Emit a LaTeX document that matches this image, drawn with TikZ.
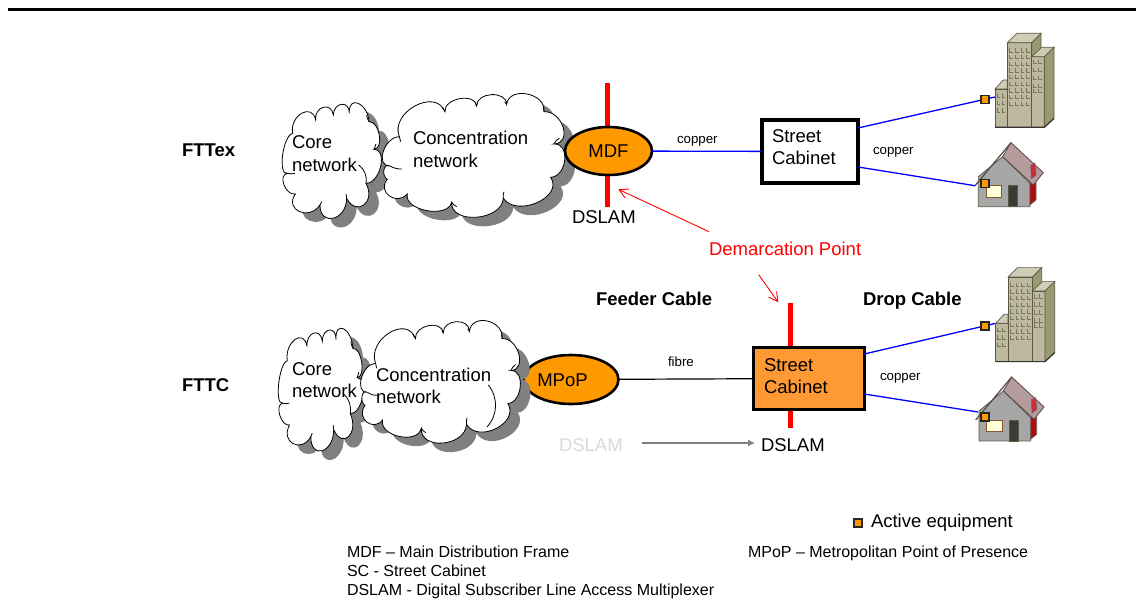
\documentclass[tikz,border=0pt]{standalone}
\usepackage{fontspec}
\setmainfont{Liberation Sans}
\usetikzlibrary{shapes.geometric,arrows.meta,calc}
\definecolor{orangeA}{HTML}{FF9900}
\definecolor{orangeB}{HTML}{FF9933}
\definecolor{blueL}{HTML}{0000FF}
\definecolor{redL}{HTML}{FF0000}
\definecolor{shadowC}{HTML}{808080}
\definecolor{bFront}{HTML}{BDB89E}
\definecolor{bSide}{HTML}{9A9A72}
\definecolor{bTop}{HTML}{CFCDB5}
\definecolor{bEdge}{HTML}{5A5A45}
\definecolor{bWin}{HTML}{77775F}
\definecolor{roofC}{HTML}{B59B9B}
\definecolor{eaveC}{HTML}{5A4848}
\definecolor{wallC}{HTML}{A6A6A6}
\definecolor{doorC}{HTML}{3A3A3A}
\definecolor{winC}{HTML}{FFFFD8}
\definecolor{chimA}{HTML}{B00C0C}
\definecolor{chimB}{HTML}{D0283C}
\newcommand\fsL{\fontsize{18.5}{22}\selectfont}
\newcommand\fsS{\fontsize{13.3}{15}\selectfont}
\newcommand\fsT{\fontsize{16}{19}\selectfont}
% one lobe of a cloud: from cusp P through apex Q to cusp R
\newcommand\lobe[3]{-- (#1) .. controls ($.333*(#1)+1.333*(#2)-.667*(#3)$) and ($.333*(#3)+1.333*(#2)-.667*(#1)$) .. (#3)}
\newcommand\coreCloud{(68,190)
  \lobe{68,190}{95,130}{137,150}
  \lobe{137,150}{160,112}{190,135}
  \lobe{190,135}{215,103}{238,130}
  \lobe{238,130}{265,100}{297,155}
  \lobe{297,155}{328,195}{312,238}
  \lobe{312,238}{332,290}{288,340}
  \lobe{288,340}{282,405}{230,385}
  \lobe{230,385}{190,445}{150,405}
  \lobe{150,405}{88,425}{76,372}
  \lobe{76,372}{42,345}{52,310}
  \lobe{52,310}{38,255}{68,190} -- cycle}
\newcommand\coreCurls{
  \draw[curl] (297,155) to[bend left=15] (290,135);
  \draw[curl] (312,238) to[bend left=15] (318,222);
  \draw[curl] (266,285) to[bend left=30] (288,340);
  \draw[curl] (230,385) to[bend left=15] (228,372);
  \draw[curl] (150,405) to[bend left=15] (155,395);
  \draw[curl] (52,310) to[bend right=15] (75,310);
}
\newcommand\concCloud{(388,200)
  \lobe{388,200}{435,108}{525,125}
  \lobe{525,125}{570,86}{620,108}
  \lobe{620,108}{665,74}{710,103}
  \lobe{710,103}{772,72}{822,125}
  \lobe{822,125}{880,172}{852,222}
  \lobe{852,222}{885,270}{842,322}
  \lobe{842,322}{802,398}{700,385}
  \lobe{700,385}{620,442}{545,397}
  \lobe{545,397}{470,422}{412,372}
  \lobe{412,372}{358,378}{352,328}
  \lobe{352,328}{342,300}{360,288}
  \lobe{360,288}{340,245}{388,200} -- cycle}
\newcommand\concCurls{
  \draw[curl] (360,288) to[bend right=15] (396,297);
  \draw[curl] (388,200) to[bend right=15] (392,215);
  \draw[curl] (525,125) to[bend left=15] (516,112);
  \draw[curl] (620,108) to[bend left=15] (616,98);
  \draw[curl] (710,103) to[bend left=15] (704,96);
  \draw[curl] (822,125) to[bend left=15] (820,112);
  \draw[curl] (852,222) to[bend left=15] (868,204);
  \draw[curl] (700,385) to[bend left=15] (702,365);
  \draw[curl] (545,397) to[bend right=15] (560,410);
}
% \cloudAt{xshift}{yshift}{xscale}{yscale}{path}{curls}: shadow, outline, inner strokes
\newcommand\cloudAt[6]{%
  \begin{scope}[shift={(#1+10,#2+9)},xscale=#3,yscale=#4]
    \begin{scope}[shift={(270,70)},scale=1/3]\fill[cloudshade] #5;\end{scope}
  \end{scope}
  \begin{scope}[shift={(#1,#2)},xscale=#3,yscale=#4]
    \begin{scope}[shift={(270,70)},scale=1/3]\path[cloudface] #5; #6\end{scope}
  \end{scope}}
\newcommand\drawBuilding{%
  \path[facet,fill=bFront] (165,207) rectangle (202,322);
  \path[facet,fill=bTop] (165,207) -- (190,180) -- (202,180) -- (202,207) -- cycle;
  \path[facet,fill=bSide] (275,68) -- (303,40) -- (303,100) -- (275,125) -- cycle;
  \path[facet,fill=bFront] (202,68) rectangle (275,322);
  \path[facet,fill=bTop] (202,68) -- (230,40) -- (303,40) -- (275,68) -- cycle;
  \path[facet,fill=bFront] (275,110) rectangle (313,322);
  \path[facet,fill=bTop] (275,110) -- (305,82) -- (342,82) -- (313,110) -- cycle;
  \path[facet,fill=bSide] (313,110) -- (342,82) -- (342,295) -- (313,322) -- cycle;
  \draw[line width=1.2pt,black!80] (165,322) -- (313,322) -- (342,295);
  \foreach \xx in {209,226,243,260} \foreach \yy in {85,105,...,245} \draw[winmark] (\xx,\yy) -- (\xx,\yy+11) -- (\xx+10,\yy+11);
  \foreach \xx in {171,186} \foreach \yy in {220,243,265} \draw[winmark] (\xx,\yy) -- (\xx,\yy+11) -- (\xx+10,\yy+11);
  \foreach \xx in {281,296} \foreach \yy in {120,144,168,192,207} \draw[winmark] (\xx,\yy) -- (\xx,\yy+11) -- (\xx+10,\yy+11);
}
\newcommand\drawHouse{%
  \path[draw=bEdge,line width=.8pt,fill=wallC] (115,560) -- (115,470) -- (188,410) -- (270,490) -- (270,560) -- cycle;
  \path[draw=black!60,line width=.6pt,fill=chimA] (270,490) -- (270,555) -- (288,540) -- (288,470) -- cycle;
  \path[draw=eaveC,line width=.8pt,fill=roofC] (188,410) -- (213,368) -- (310,458) -- (280,495) -- cycle;
  \path[draw=black!60,line width=.6pt,fill=chimB] (272,436) -- (285,430) -- (288,465) -- (274,476) -- cycle;
  \draw[line width=1.2pt,eaveC] (105,497) -- (213,368);
  \path[draw=brown!70!black,line width=.8pt,fill=winC] (138,497) rectangle (184,532);
  \path[draw=bEdge,line width=.8pt,fill=doorC] (205,497) rectangle (232,560);
}
\tikzset{
  x=1pt,y=-1pt,
  every node/.style={inner sep=0pt,outer sep=0pt},
  txtL/.style={font=\fsL,anchor=base west},
  txtB/.style={font=\fsL\bfseries,anchor=base west},
  txtS/.style={font=\fsS,anchor=base west},
  txtT/.style={font=\fsT,anchor=base west},
  txtBlock/.style={font=\fsL,anchor=west,align=left},
  facet/.style={draw=bEdge,line width=.7pt},
  winmark/.style={draw=bWin,line width=.5pt},
  curl/.style={draw=black,line width=.8pt},
  cloudface/.style={fill=white,draw=black,line width=.8pt},
  cloudshade/.style={fill=shadowC,draw=none},
  oval/.style={ellipse,draw=black,line width=2.6pt,fill=orangeA},
  cabinet/.style={rectangle,draw=black,line width=3.2pt},
  activesq/.style={rectangle,draw=black!85,line width=1.3pt,fill=orangeA,minimum size=8pt},
  redbar/.style={draw=redL,line width=5pt},
  blueline/.style={draw=blueL,line width=1.3pt},
  callout/.style={draw=redL,line width=.9pt,-{Straight Barb[length=9pt,width=10pt]}},
}
\begin{document}
\begin{tikzpicture}
\useasboundingbox (0,0) rectangle (1136,602);
\coordinate (hl) at (8,9.7); \coordinate (hr) at (1136,9.7);
\draw[line width=2.4pt,black] (hl) -- (hr);

% ---- top row
\coordinate (rt) at (607,83); \coordinate (rb) at (607,207);
\draw[redbar] (rt) -- (rb);
\cloudAt{0}{0}{1}{1}{\coreCloud}{\coreCurls}
\cloudAt{0}{0}{1}{1}{\concCloud}{\concCurls}
\node[txtL] (core1a) at (292,148) {Core};
\node[txtL] (core1b) at (292,171) {network};
\node[txtL] (conc1a) at (413,144) {Concentration};
\node[txtL] (conc1b) at (413,167) {network};
\node[oval,minimum width=87pt,minimum height=48pt,font=\fsL] (mdf) at (608.5,151) {MDF};
\node[cabinet,minimum width=96pt,minimum height=63pt] (cab1) at (810,151.5) {};
\node[txtBlock] (cab1t) at (772,147) {Street\\Cabinet};
\draw[blueline] (mdf) -- (cab1);

\begin{scope}[shift={(940,20)},scale=1/3]\drawBuilding\drawHouse\end{scope}
\coordinate (c1a) at (858,128); \coordinate (c1b) at (858,167);
\coordinate (bl1) at (995,97); \coordinate (hs1) at (975,185.7);
\draw[blueline] (c1a) -- (bl1);
\draw[blueline] (c1b) -- (hs1);
\node[activesq] (sq1) at (985,99.5) {};
\node[activesq] (sq2) at (985,183.5) {};

% ---- bottom row
\coordinate (rt2) at (790.3,303); \coordinate (rb2) at (790.3,427.7);
\draw[redbar] (rt2) -- (rb2);
\node[oval,minimum width=95pt,minimum height=49pt] (mpop) at (571,379.5) {};
\cloudAt{35.6}{219.4}{.86}{1.06}{\coreCloud}{\coreCurls}
\cloudAt{26.1}{228}{.875}{.99}{\concCloud}{\concCurls}
\coordinate (cl1) at (488.3,385); \coordinate (cl2) at (487,427);
\draw[curl] (cl1) to[bend left=40] (cl2);
\node[txtL] (core2a) at (292,375) {Core};
\node[txtL] (core2b) at (292,397) {network};
\node[txtL] (conc2a) at (376,381) {Concentration};
\node[txtL] (conc2b) at (376,403) {network};
\node[font=\fsL] (mpoplabel) at (562.5,380) {MPoP};
\node[cabinet,fill=orangeB,minimum width=111pt,minimum height=62pt] (cab2) at (808.8,378.5) {};
\node[txtBlock] (cab2t) at (764,376) {Street\\Cabinet};
\draw[line width=1.2pt] (mpop) -- (cab2);

\begin{scope}[shift={(940.7,254.3)},scale=1/3]\drawBuilding\drawHouse\end{scope}
\coordinate (c2a) at (864.3,354); \coordinate (c2b) at (864.3,394);
\coordinate (bl2) at (995,323.5); \coordinate (hs2) at (978,412);
\draw[blueline] (c2a) -- (bl2);
\draw[blueline] (c2b) -- (hs2);
\node[activesq] (sq3) at (985,326) {};
\node[activesq] (sq4) at (985,417) {};

% ---- labels
\node[txtB] (fttex) at (182,156) {FTTex};
\node[txtB] (fttc) at (182,391) {FTTC};
\node[txtB] (feeder) at (596,305) {Feeder Cable};
\node[txtB] (drop) at (863,305) {Drop Cable};
\node[txtS] (cu1) at (677,143) {copper};
\node[txtS] (cu2) at (873,154) {copper};
\node[txtS] (cu3) at (880,380) {copper};
\node[txtS] (fb) at (668,366) {fibre};
\node[txtL] (ds1) at (572,223) {DSLAM};
\node[txtL,text=black!15] (ds2) at (559,451) {DSLAM};
\node[txtL] (ds3) at (761,451) {DSLAM};
\coordinate (gs) at (642,443); \coordinate (ge) at (755,443);
\draw[draw=black!50,line width=1.1pt,-{Latex[length=7pt,width=7pt]}] (gs) -- (ge);
\node[txtL,text=redL] (dem) at (709,255) {Demarcation Point};
\coordinate (ds_a) at (709,231.7); \coordinate (dt1) at (618.3,189.3);
\coordinate (ds_b) at (758.7,274.7); \coordinate (dt2) at (778.3,302.3);
\draw[callout] (ds_a) -- (dt1);
\draw[callout] (ds_b) -- (dt2);

% ---- legend
\node[activesq] (sq5) at (858,523) {};
\node[txtL] (act) at (871,527) {Active equipment};
\node[txtT] (l1) at (347,557) {MDF – Main Distribution Frame};
\node[txtT] (l2) at (347,576) {SC - Street Cabinet};
\node[txtT] (l3) at (347,595) {DSLAM - Digital Subscriber Line Access Multiplexer};
\node[txtT] (l4) at (748,557) {MPoP – Metropolitan Point of Presence};
\end{tikzpicture}
\end{document}
